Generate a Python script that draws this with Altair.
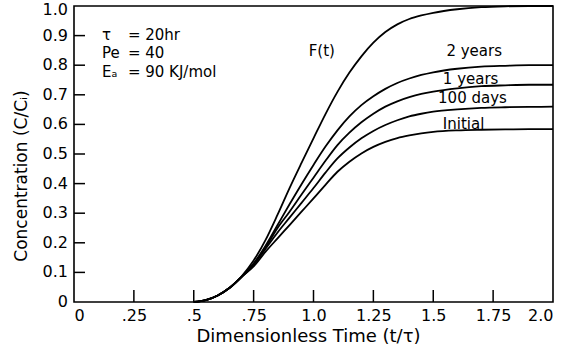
import altair as alt
import pandas as pd

# ---- data ----
t = [0.5, 0.55, 0.6, 0.65, 0.7, 0.75, 0.8, 0.85, 0.9, 0.95, 1.0, 1.05, 1.1, 1.15,
     1.2, 1.25, 1.3, 1.35, 1.4, 1.45, 1.5, 1.6, 1.7, 1.8, 1.9, 2.0]
F_t = [0.0, 0.006, 0.022, 0.048, 0.087, 0.14, 0.21, 0.295, 0.385, 0.47, 0.553, 0.635,
       0.71, 0.775, 0.83, 0.876, 0.912, 0.938, 0.956, 0.968, 0.977, 0.989, 0.996,
       0.999, 1.0, 1.0]
two_years = [0.0, 0.006, 0.022, 0.048, 0.085, 0.13, 0.19, 0.26, 0.33, 0.398, 0.463,
             0.525, 0.58, 0.627, 0.665, 0.695, 0.72, 0.74, 0.755, 0.767, 0.776, 0.788,
             0.795, 0.798, 0.8, 0.8]
one_year = [0.0, 0.006, 0.022, 0.048, 0.085, 0.128, 0.185, 0.25, 0.305, 0.363, 0.42,
            0.477, 0.53, 0.572, 0.607, 0.636, 0.66, 0.678, 0.692, 0.703, 0.711, 0.722,
            0.729, 0.732, 0.734, 0.734]
hundred_days = [0.0, 0.006, 0.022, 0.048, 0.085, 0.125, 0.18, 0.235, 0.285, 0.335, 0.385,
                0.437, 0.485, 0.522, 0.553, 0.578, 0.598, 0.614, 0.627, 0.636, 0.643,
                0.651, 0.656, 0.658, 0.659, 0.66]
initial = [0.0, 0.006, 0.022, 0.048, 0.085, 0.12, 0.17, 0.215, 0.26, 0.305, 0.35, 0.396,
           0.44, 0.474, 0.502, 0.524, 0.541, 0.554, 0.563, 0.57, 0.575, 0.58, 0.582,
           0.583, 0.584, 0.584]

series_names = ["F(t)", "2 years", "1 years", "100 days", "Initial"]
series_values = [F_t, two_years, one_year, hundred_days, initial]

x_tick_values = [0, 0.25, 0.5, 0.75, 1.0, 1.25, 1.5, 1.75, 2.0]
x_tick_labels = ["0", ".25", ".5", ".75", "1.0", "1.25", "1.5", "1.75", "2.0"]
y_tick_values = [0, 0.1, 0.2, 0.3, 0.4, 0.5, 0.6, 0.7, 0.8, 0.9, 1.0]
y_tick_labels = ["0", "0.1", "0.2", "0.3", "0.4", "0.5", "0.6", "0.7", "0.8", "0.9", "1.0"]

x_title = "Dimensionless Time (t/τ)"
y_title = "Concentration (C/Cᵢ)"

curve_label_text = ["F(t)", "2 years", "1 years", "100 days", "Initial"]
curve_label_x = [0.98, 1.555, 1.54, 1.52, 1.54]
curve_label_y = [0.847, 0.847, 0.755, 0.688, 0.601]

param_names = ["τ", "Pe", "Eₐ"]
param_values = ["= 20hr", "= 40", "= 90 KJ/mol"]
param_name_x = 0.117
param_value_x = 0.225
param_y = [0.902, 0.841, 0.777]

# ---- build tables ----
rows = []
for name, vals in zip(series_names, series_values):
    for tt, v in zip(t, vals):
        rows.append({"t": tt, "c": v, "series": name})
df = pd.DataFrame(rows)
df_labels = pd.DataFrame({"x": curve_label_x, "y": curve_label_y, "text": curve_label_text})
df_pn = pd.DataFrame({"x": [param_name_x] * 3, "y": param_y, "text": param_names})
df_pv = pd.DataFrame({"x": [param_value_x] * 3, "y": param_y, "text": param_values})
df_xt = pd.DataFrame({"v": x_tick_values[1:-1]})
df_yt = pd.DataFrame({"v": y_tick_values[1:-1]})
df_yl = pd.DataFrame({"v": y_tick_values, "text": y_tick_labels})
df_ytitle = pd.DataFrame({"text": [y_title]})

FONT = "DejaVu Sans"
W, H = 479, 296


def label_expr(vals, labels):
    parts = " : ".join(f"datum.value == {v} ? '{l}'" for v, l in zip(vals, labels))
    return parts + " : ''"


xscale = alt.Scale(domain=[0, 2.0], nice=False, zero=False)
yscale = alt.Scale(domain=[0, 1.0], nice=False)

lines = alt.Chart(df).mark_line(color="black", strokeWidth=1.8, interpolate="monotone").encode(
    x=alt.X("t:Q", scale=xscale,
            axis=alt.Axis(values=x_tick_values, labelExpr=label_expr(x_tick_values, x_tick_labels),
                          ticks=False, grid=False, domain=False, labelPadding=5,
                          labelOverlap=False,
                          labelFont=FONT, labelFontSize=16, labelColor="black",
                          title=x_title, titleFont=FONT, titleFontSize=18,
                          titleFontWeight="normal", titleColor="black",
                          titleX=234, titleY=34, titleBaseline="middle", titleAlign="center")),
    y=alt.Y("c:Q", scale=yscale, axis=None),
    detail="series:N",
)

# y tick labels drawn as text beside the plot, from the label arrays
ylabels = alt.Chart(df_yl).transform_calculate(
    pos="datum.v == 1 ? 0.987 : datum.v"
).mark_text(align="right", baseline="middle", font=FONT, fontSize=16, color="black").encode(
    y=alt.Y("pos:Q", scale=yscale, axis=None), x=alt.value(-6), text="text:N")

ytitle = alt.Chart(df_ytitle).mark_text(angle=270, align="center", baseline="middle",
                                         font=FONT, fontSize=17, color="black").encode(
    x=alt.value(-52), y=alt.value(170), text="text:N")

yticks = alt.Chart(df_yt).mark_rule(color="black", strokeWidth=1.5).encode(
    y=alt.Y("v:Q", scale=yscale, axis=None), x=alt.value(0), x2=alt.value(11))
xticks = alt.Chart(df_xt).mark_rule(color="black", strokeWidth=1.5).encode(
    x=alt.X("v:Q", scale=xscale), y=alt.value(H), y2=alt.value(H - 12))

labels = alt.Chart(df_labels).mark_text(align="left", baseline="middle", font=FONT,
                                         fontSize=15, color="black").encode(
    x=alt.X("x:Q", scale=xscale), y=alt.Y("y:Q", scale=yscale, axis=None),
    text="text:N")
pnames = alt.Chart(df_pn).mark_text(align="left", baseline="middle", font=FONT,
                                     fontSize=15, color="black").encode(
    x=alt.X("x:Q", scale=xscale), y=alt.Y("y:Q", scale=yscale, axis=None),
    text="text:N")
pvalues = alt.Chart(df_pv).mark_text(align="left", baseline="middle", font=FONT,
                                      fontSize=15, color="black").encode(
    x=alt.X("x:Q", scale=xscale), y=alt.Y("y:Q", scale=yscale, axis=None),
    text="text:N")

chart = alt.layer(lines, yticks, xticks, labels, pnames, pvalues, ylabels, ytitle).properties(
    width=W, height=H,
    padding={"left": 74, "top": 6, "right": 28, "bottom": 47},
    autosize="none",
    background="white",
).configure_view(stroke="black", strokeWidth=1.6)

chart.save("out.html", embed_options={"renderer": "svg", "actions": False})
